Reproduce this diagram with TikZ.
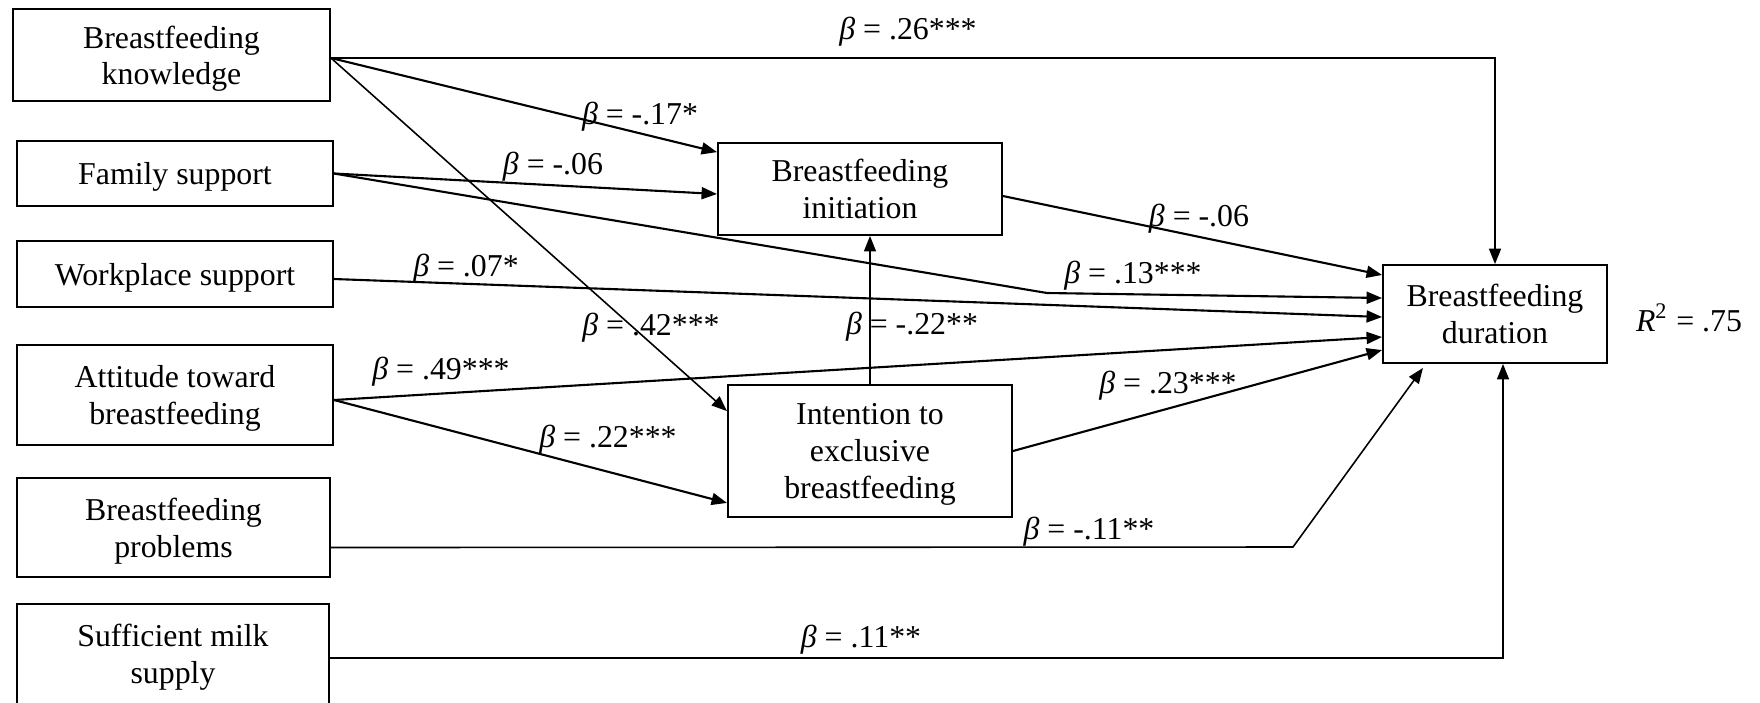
\documentclass[tikz,border=0pt]{standalone}
\usepackage{fontspec}
\setmainfont{Liberation Serif}
\usetikzlibrary{arrows.meta}

\begin{document}
\begin{tikzpicture}[x=0.01cm,y=-0.01cm,
  var/.style={draw,line width=0.5pt,align=center,inner sep=0pt,text depth=0pt,font=\fontsize{9.05}{10.6}\selectfont},
  link/.style={line width=0.6pt,-{Triangle[length=4.4pt,width=3.4pt]}},
  thinlink/.style={link,line width=0.45pt},
  coef/.style={inner sep=0pt,font=\fontsize{9.05}{10.6}\selectfont}]
\useasboundingbox (0,0) rectangle (1760,702);
% predictors
\node[var,minimum width=3.17cm,minimum height=0.92cm,font=\fontsize{9.05}{10.2}\selectfont] (know) at (171.5,55) {Breastfeeding\\knowledge};
\node[var,minimum width=3.16cm,minimum height=0.65cm] (fam) at (175,173.5) {Family support};
\node[var,minimum width=3.16cm,minimum height=0.66cm] (work) at (175,274) {Workplace support};
\node[var,minimum width=3.16cm,minimum height=1.00cm] (att) at (175,395) {Attitude toward\\breastfeeding};
\node[var,minimum width=3.13cm,minimum height=0.99cm] (prob) at (173.5,527.5) {Breastfeeding\\problems};
\node[var,minimum width=3.12cm,minimum height=1.00cm] (milk) at (173,654) {Sufficient milk\\supply};
% mediators and outcome
\node[var,minimum width=2.84cm,minimum height=0.92cm] (init) at (860,189) {Breastfeeding\\initiation};
\node[var,minimum width=2.84cm,minimum height=1.32cm] (int) at (870,451) {Intention to\\exclusive\\breastfeeding};
\node[var,minimum width=2.24cm,minimum height=0.98cm] (dur) at (1495,314) {Breastfeeding\\duration};
\node[coef] (rsq) at (1689,318) {\textit{R}\textsuperscript{2} = .75};
% paths
\coordinate (k) at ([yshift=-0.03cm]know.east);
\coordinate (fbend) at (1047,293);
\coordinate (pbend) at (1293,547);
\draw[thinlink] (k) -| (dur.north);
\draw[link] (k) -- ([yshift=-0.1cm]init.north west);
\draw[thinlink] (k) -- ([yshift=-0.27cm]int.north west);
\draw[link] (fam.east) -- ([yshift=-0.05cm]init.west);
\draw[link] (fam.east) -- (fbend) -- ([yshift=0.16cm]dur.west);
\draw[link] ([yshift=-0.05cm]work.east) -- ([yshift=-0.03cm]dur.west);
\draw[link] ([yshift=-0.05cm]att.east) -- ([yshift=-0.23cm]dur.west);
\draw[link] ([yshift=-0.05cm]att.east) -- ([yshift=0.15cm]int.south west);
\draw[thinlink] (int.north) -- (int.north |- init.south);
\draw[link] (int.east) -- ([yshift=-0.36cm]dur.west);
\draw[link] ([yshift=-0.07cm]init.east) -- ([yshift=0.39cm]dur.west);
\draw[thinlink] ([yshift=-0.2cm]prob.east) -- (pbend) -- ([xshift=-0.72cm,yshift=-0.04cm]dur.south);
\draw[thinlink] ([yshift=-0.04cm]milk.east) -| ([xshift=0.08cm]dur.south);
% coefficients
\foreach \x/\y/\lab [count=\i] in {908/32/.26***,640/117/-.17*,553/167/-.06,466/269/.07*,
    651/328/.42***,441/372/.49***,608/440/.22***,912/327/-.22**,1133/276/.13***,
    1199/219/-.06,1168/386/.23***,1089/532/-.11**,861/640/.11**} {
  \node[coef] (b\i) at (\x,\y) {\textit{β} = \lab};
}
\end{tikzpicture}
\end{document}
